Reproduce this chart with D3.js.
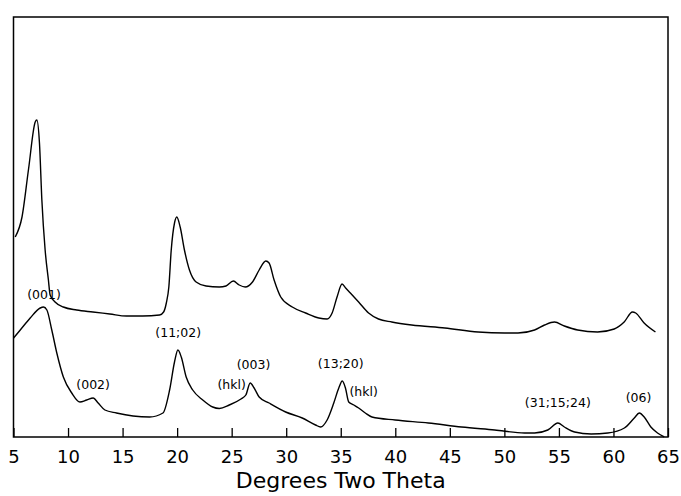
<!DOCTYPE html>
<html><head><meta charset="utf-8">
<script src="https://cdn.jsdelivr.net/npm/d3@7"></script>
<style>body{margin:0;background:#fff}svg{display:block}</style>
</head><body>
<script>
// Upper pattern: [two-theta (deg), intensity (arb.)]
const upperTheta = [5.16,5.78,6.38,6.99,7.14,7.38,7.60,7.90,8.20,8.36,8.81,9.57,10.79,12.28,13.83,15.36,16.84,18.39,18.76,19.01,19.24,19.46,19.76,19.97,20.28,20.67,21.13,21.74,22.65,23.87,24.48,25.15,25.69,26.24,26.91,27.52,28.13,28.43,28.89,29.50,30.56,31.78,32.99,33.75,34.21,34.66,35.12,35.45,35.88,36.64,37.55,38.46,39.68,41.50,44.55,47.59,50.03,51.25,52.77,53.68,54.59,55.50,56.72,58.54,60.07,60.98,61.74,62.04,62.81,63.85];
const upperIntensity = [200,220,268,315,317,294,237,187,157,142,135,130,127,125,123,121,121,122,125,134,150,187,214,220,210,187,167,155,151,150,151,156,152,150,155,167,176,174,157,140,130,124,119,118,124,140,153,149,144,135,124,118,115,112,109,105,104,104,107,112,115,111,107,105,108,115,125,124,114,105];
// Lower pattern
const lowerTheta = [5.01,5.62,6.53,7.45,7.75,8.06,8.51,8.97,9.57,10.34,11.09,11.71,12.31,12.76,13.38,14.44,15.96,17.48,18.70,19.31,19.76,20.07,20.38,20.83,21.43,22.35,23.26,23.87,24.78,25.85,26.30,26.70,27.06,27.52,28.43,29.95,31.47,32.69,33.15,33.75,34.36,34.82,35.14,35.43,35.73,36.19,36.64,37.25,37.86,39.99,43.03,46.07,49.11,51.85,52.77,53.98,54.90,55.50,56.44,57.96,59.48,61.00,61.91,62.37,62.82,63.43,64.04,64.65];
const lowerIntensity = [99,107,119,129,130,127,107,84,60,44,35,37,39,34,27,24,21,20,24,47,75,87,80,60,47,37,30,28.5,32,38,42,54,49,40,34,25,19,12,10,17,34,49,56,49,35,32,29,24,20,17,14,10,7,4,4,7,14,10,5,3,4,9,19,24,20,10,4,0];
// Reflection labels: text, two-theta, intensity at label centre
const peakLabels = ["(001)","(002)","(11;02)","(hkl)","(003)","(13;20)","(hkl)","(31;15;24)","(06)"];
const labelTheta = [7.8,12.3,20.1,25.0,27.0,35.0,37.1,54.9,62.3];
const labelIntensity = [142,52,104,52,72,73,45,34,39];
const xTicks = [5,10,15,20,25,30,35,40,45,50,55,60,65];

const W = 681, H = 496;
const mLeft = 13.5, mRight = 668, mTop = 17, mBottom = 437;
const svg = d3.select("body").append("svg").attr("width", W).attr("height", H);
const x = d3.scaleLinear().domain([5,65]).range([mLeft, mRight]);
const y = d3.scaleLinear().domain([0,420]).range([mBottom, mTop]);

const line = d3.line().x(d => x(d[0])).y(d => y(d[1])).curve(d3.curveMonotoneX);
const upper = upperTheta.map((t,i) => [t, upperIntensity[i]]);
const lower = lowerTheta.map((t,i) => [t, lowerIntensity[i]]);
svg.append("path").attr("d", line(upper)).attr("fill","none").attr("stroke","#000").attr("stroke-width",1.4);
svg.append("path").attr("d", line(lower)).attr("fill","none").attr("stroke","#000").attr("stroke-width",1.4);

svg.append("rect").attr("x", mLeft).attr("y", mTop).attr("width", mRight-mLeft).attr("height", mBottom-mTop)
  .attr("fill","none").attr("stroke","#000").attr("stroke-width",1.5);

const ax = svg.append("g").attr("transform", `translate(0,${mBottom})`)
  .call(d3.axisBottom(x).tickValues(xTicks).tickSize(-9).tickPadding(13).tickFormat(d3.format("d")));
ax.select(".domain").remove();
ax.selectAll("line").attr("stroke","#000").attr("stroke-width",1.3);
ax.selectAll("text").attr("font-family","DejaVu Sans").attr("font-size",18).attr("fill","#000");

svg.append("text").attr("x", (mLeft+mRight)/2).attr("y", 488).attr("text-anchor","middle")
  .attr("font-family","DejaVu Sans").attr("font-size",22).text("Degrees Two Theta");

svg.selectAll(".lbl").data(peakLabels).enter().append("text").attr("class","lbl")
  .attr("x", (d,i) => x(labelTheta[i])).attr("y", (d,i) => y(labelIntensity[i]))
  .attr("dy","0.35em").attr("text-anchor","middle")
  .attr("font-family","DejaVu Sans").attr("font-size",12.5).text(d => d);
</script>
</body></html>
